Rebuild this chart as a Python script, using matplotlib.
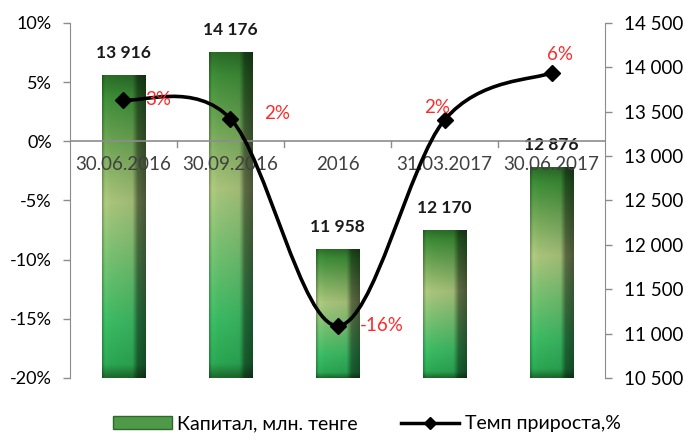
import numpy as np
import matplotlib.pyplot as plt
from matplotlib.path import Path
from matplotlib.patches import PathPatch, Patch
from matplotlib.lines import Line2D
from matplotlib.colors import to_rgb

plt.rcParams['font.family'] = ['Lato', 'DejaVu Sans']

# data
categories = ["30.06.2016", "30.09.2016", "2016", "31.03.2017", "30.06.2017"]
capital = [13916, 14176, 11958, 12170, 12876]
growth = [3.5, 1.9, -15.6, 1.8, 5.8]
growth_labels = ["3%", "2%", "-16%", "2%", "6%"]
cap_labels = ["13 916", "14 176", "11 958", "12 170", "12 876"]
left_ticks = [-20, -15, -10, -5, 0, 5, 10]
right_ticks = [10500, 11000, 11500, 12000, 12500, 13000, 13500, 14000, 14500]

fig = plt.figure(figsize=(6.86, 4.41), dpi=100)
ax = fig.add_axes([0.102, 0.143, 0.780, 0.805])
ax2 = ax.twinx()

x = np.arange(len(categories))
base = 10500

# bars on the capital axis (right side)
bars = ax.bar(x, [v - base for v in capital], bottom=base, width=0.41,
              facecolor='none', edgecolor='none', zorder=2)

# gradient fill for bars
def gradient_img():
    stops = [(0.0, '#2a6a28'), (0.07, '#3c8a36'), (0.42, '#a9c37b'),
             (0.82, '#3bb862'), (0.96, '#2aa552'), (1.0, '#1d6a2c')]
    t = np.linspace(0, 1, 120)
    cols = np.zeros((120, 3))
    for k in range(3):
        cols[:, k] = np.interp(t, [s[0] for s in stops],
                               [to_rgb(s[1])[k] for s in stops])
    u = np.linspace(0, 1, 40)
    fac = np.interp(u, [0, 0.06, 0.2, 0.7, 0.82, 1.0],
                    [0.8, 1.05, 1.0, 0.95, 0.55, 0.45])
    img = cols[:, None, :] * fac[None, :, None]
    return np.clip(img, 0, 1)

img = gradient_img()
for b in bars:
    x0, w, h = b.get_x(), b.get_width(), b.get_height()
    im = ax.imshow(img, extent=[x0, x0 + w, base, base + h], aspect='auto',
                   zorder=2, interpolation='bilinear')
    im.set_clip_path(b)

for xi, v, lab in zip(x, capital, cap_labels):
    ax.annotate(lab, (xi, v), xytext=(0, 10), textcoords='offset points',
                ha='center', va='bottom', fontsize=12.5, fontweight='bold',
                color='#1a1a1a', zorder=4)

ax.set_xlim(-0.5, len(categories) - 0.5)
ax.set_ylim(10500, 14500)
ax.yaxis.tick_right()
ax.set_yticks(right_ticks)
ax.set_yticklabels([f"{t:,}".replace(",", " ") for t in right_ticks])
ax.set_xticks([])

# growth line on percent axis (left side)
ax2.yaxis.tick_left()
ax2.set_ylim(-20, 10)
ax2.set_yticks(left_ticks)
ax2.set_yticklabels([f"{t}%" for t in left_ticks])

ax2.axhline(0, color='#8c8c8c', lw=1.2, zorder=1)
for xb in [0.5, 1.5, 2.5, 3.5]:
    ax2.plot([xb, xb], [0, -0.45], color='#8c8c8c', lw=1, zorder=1)

for xi, lab in zip(x, categories):
    ax2.text(xi, -1.95, lab, ha='center', va='center', fontsize=13.5,
             color='#404040', zorder=3)

# smoothed line (Catmull-Rom style bezier through the data points)
pts = np.column_stack([x, growth]).astype(float)
verts = [pts[0]]
codes = [Path.MOVETO]
n = len(pts)
for i in range(n - 1):
    p_prev = pts[i - 1] if i > 0 else pts[i]
    p_next2 = pts[i + 2] if i + 2 < n else pts[i + 1]
    c1 = pts[i] + (pts[i + 1] - p_prev) / 6
    c2 = pts[i + 1] - (p_next2 - pts[i]) / 6
    verts += [c1, c2, pts[i + 1]]
    codes += [Path.CURVE4] * 3
ax2.add_patch(PathPatch(Path(verts, codes), facecolor='none',
                        edgecolor='black', lw=2.6, zorder=5))
ax2.plot(x, growth, linestyle='none', marker='D', color='black', ms=8, zorder=6)

offsets = [(16, 0, 'left'), (24, 4, 'left'), (16, 0, 'left'),
           (-5, 9, 'center'), (6, 13, 'center')]
for xi, v, lab, (dx, dy, ha) in zip(x, growth, growth_labels, offsets):
    ax2.annotate(lab, (xi, v), xytext=(dx, dy), textcoords='offset points',
                 ha=ha, va='center', fontsize=13.5, color='#ff2a2a', zorder=7)

for a in (ax, ax2):
    for s in ['top', 'bottom', 'left', 'right']:
        a.spines[s].set_visible(False)
ax2.spines['left'].set_visible(True)
ax2.spines['left'].set_color('#8c8c8c')
ax.spines['right'].set_visible(True)
ax.spines['right'].set_color('#8c8c8c')
ax.tick_params(axis='y', colors='#8c8c8c', labelcolor='black', labelsize=13.5,
               length=5, width=1, pad=9)
ax2.tick_params(axis='y', colors='#8c8c8c', labelcolor='black', labelsize=13,
                length=5, width=1, pad=8)
ax2.set_xticks([])

handles = [Patch(facecolor='#4e9a48', edgecolor='#2c6a2a'),
           Line2D([], [], color='black', lw=2.5, marker='D', ms=6)]
fig.legend(handles, ["Капитал, млн. тенге", "Темп прироста,%"],
           loc='lower center', bbox_to_anchor=(0.535, -0.02), ncol=2,
           frameon=False, fontsize=14, handlelength=3.0, columnspacing=2.2,
           handletextpad=0.3)

fig.savefig('out.png', dpi=100)
